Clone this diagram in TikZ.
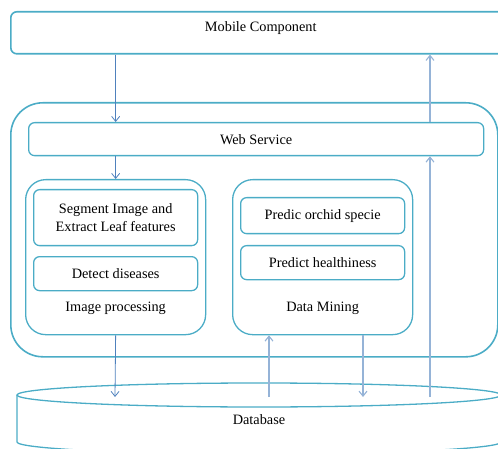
\documentclass[tikz,border=0pt]{standalone}
\usepackage{fontspec}
\setmainfont{Liberation Serif}
\usetikzlibrary{positioning,arrows.meta,calc}
\definecolor{boxc}{HTML}{4BACC6}
\definecolor{arrd}{HTML}{4F81BD}
\definecolor{arrl}{HTML}{95B3D7}
\tikzset{
  bx/.style={rectangle, rounded corners=6pt, draw=boxc, line width=1.3pt, anchor=north west, inner sep=0pt, text centered, align=center},
  grp/.style={bx, rounded corners=20pt},
  outer/.style={bx, rounded corners=32pt, line width=1.6pt},
  lbl/.style={inner sep=0pt, align=center},
  ar/.style={-{Straight Barb[length=5pt,width=8pt]}, draw=arrd, line width=0.8pt},
  arl/.style={ar, draw=arrl, line width=1.1pt},
  dbline/.style={draw=boxc, line width=1.3pt}
}

\begin{document}
\begin{tikzpicture}[x=1pt,y=1pt,font=\fontsize{14.3}{18}\selectfont]
	\useasboundingbox (0,0) rectangle (498,-449);
	\clip (0,0) rectangle (498,-449);
	\node[bx, line width=1.6pt, minimum width=500pt, minimum height=42pt] (mobile) at (10,-11) {};
	\node[lbl, below=10pt of mobile.north] (mobiletxt) {Mobile Component};
	%
	\node[outer, minimum width=487pt, minimum height=254pt] (server) at (10,-102) {};
	\node[bx, minimum width=455pt, minimum height=33pt] (web) at (28,-122) {Web Service};
	%
	\node[grp, minimum width=180pt, minimum height=155pt] (improc) at (25,-179) {};
	\node[bx, minimum width=164pt, minimum height=56pt] (seg) at (33,-189) {Segment Image and\\Extract Leaf features};
	\node[bx, minimum width=164pt, minimum height=34pt] (detect) at (33,-256) {Detect diseases};
	\node[lbl, above=21pt of improc.south] (improctxt) {Image processing};
	%
	\node[grp, minimum width=180pt, minimum height=155pt] (dm) at (232,-179) {};
	\node[bx, minimum width=164pt, minimum height=36pt] (orchid) at (240,-197) {Predic orchid specie};
	\node[bx, minimum width=164pt, minimum height=34pt] (health) at (240,-245) {Predict healthiness};
	\node[lbl, above=21pt of dm.south] (dmtxt) {Data Mining};
	%
	\draw[dbline] (259,-395) ellipse (242pt and 12pt);
	\draw[dbline] (17,-395) -- (17,-442) arc (180:360:242pt and 12pt) -- (501,-395);
	\node[lbl] (db) at (259,-420) {Database};
	\coordinate (dbip) at (115,-397);
	\coordinate (dbin) at (269,-397);
	\coordinate (dbout) at (363,-397);
	\coordinate (dbws) at (430,-397);
	%
	\draw[ar] (mobile.south -| improc) -- (web.north -| improc);
	\draw[ar] (web.south -| improc) -- (improc.north);
	\draw[ar] (improc.south) -- (dbip);
	\draw[arl] (dbin) -- (dbin |- dm.south);
	\draw[arl] (dbout |- dm.south) -- (dbout);
	\draw[arl] (dbws) -- (dbws |- web.south);
	\draw[arl] (dbws |- web.north) -- (dbws |- mobile.south);
\end{tikzpicture}
\end{document}
